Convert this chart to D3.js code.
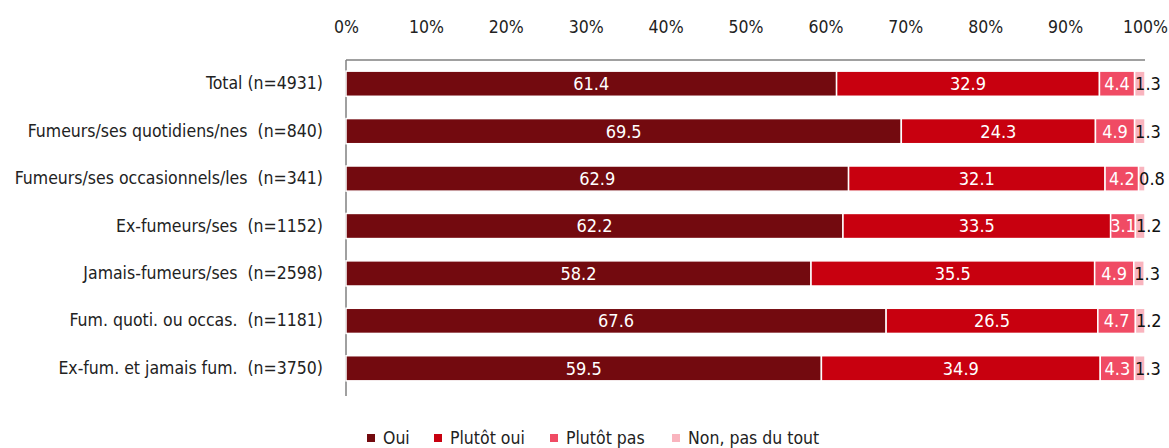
<!DOCTYPE html>
<html>
  <head>
    <meta charset="utf-8">
    <script type="text/javascript" src="https://cdn.jsdelivr.net/npm/d3@7"></script>
    <style>
      body { margin: 0; background: #fff; }
      text { font-family: "Liberation Sans Narrow", "DejaVu Sans Condensed", "Roboto", sans-serif; white-space: pre; }
    </style>
  </head>
  <body>
  <script type='text/javascript'>

    var categories = [
      "Total (n=4931)",
      "Fumeurs/ses quotidiens/nes  (n=840)",
      "Fumeurs/ses occasionnels/les  (n=341)",
      "Ex-fumeurs/ses  (n=1152)",
      "Jamais-fumeurs/ses  (n=2598)",
      "Fum. quoti. ou occas.  (n=1181)",
      "Ex-fum. et jamais fum.  (n=3750)"
    ];
    var series = ["Oui", "Plutôt oui", "Plutôt pas", "Non, pas du tout"];
    var oui       = [61.4, 69.5, 62.9, 62.2, 58.2, 67.6, 59.5];
    var plutotOui = [32.9, 24.3, 32.1, 33.5, 35.5, 26.5, 34.9];
    var plutotPas = [4.4, 4.9, 4.2, 3.1, 4.9, 4.7, 4.3];
    var non       = [1.3, 1.3, 0.8, 1.2, 1.3, 1.2, 1.3];
    var tickValues = [0, 10, 20, 30, 40, 50, 60, 70, 80, 90, 100];

    var colors = ["#730a0f", "#c8000f", "#f04b64", "#f9b4be"];
    var labelColors = ["#fff", "#fff", "#fff", "#111"];
    var FONT = "'Liberation Sans Narrow', 'DejaVu Sans Condensed', sans-serif";

    var W = 1169, H = 448;
    var svg = d3.select("body").append("svg")
        .attr("width", W).attr("height", H);

    var x = d3.scaleLinear().domain([0, 100]).range([346, 1145]);
    var y = d3.scaleBand().domain(categories).range([60, 392]).paddingInner(0.47).paddingOuter(0.235);

    var rows = categories.map(function(c, i){
      return {cat: c, vals: [oui[i], plutotOui[i], plutotPas[i], non[i]]};
    });

    // top axis (tick labels only)
    var xAxis = d3.axisTop(x).tickValues(tickValues).tickFormat(function(d){ return d + "%"; }).tickSize(0);
    var gx = svg.append("g").attr("transform", "translate(0,27)").call(xAxis);
    gx.select(".domain").remove();
    gx.selectAll("text").attr("font-size", 17.5).attr("fill", "#222")
      .attr("font-family", FONT)
      .attr("dy", "0.35em").attr("y", 0);

    // frame lines
    svg.append("line").attr("x1", x(0)).attr("x2", x(100)).attr("y1", 60).attr("y2", 60)
      .attr("stroke", "#808080").attr("stroke-width", 1.5);
    svg.append("line").attr("x1", x(0)).attr("x2", x(0)).attr("y1", 60).attr("y2", 396)
      .attr("stroke", "#808080").attr("stroke-width", 1.5);

    // category labels
    var yAxis = d3.axisLeft(y).tickSize(0).tickPadding(23);
    var gy = svg.append("g").attr("transform", "translate(" + x(0) + ",0)").call(yAxis);
    gy.select(".domain").remove();
    gy.selectAll("text").attr("font-size", 17.5).attr("fill", "#222")
      .attr("font-family", FONT);

    // bars
    var rowG = svg.selectAll("g.row").data(rows).enter().append("g")
        .attr("class", "row")
        .attr("transform", function(d){ return "translate(0," + y(d.cat) + ")"; });

    rowG.each(function(d){
      var g = d3.select(this);
      var acc = 0;
      d.vals.forEach(function(v, k){
        var x0 = x(acc), x1 = x(acc + v);
        g.append("rect")
          .attr("x", x0).attr("y", 0)
          .attr("width", Math.max(0, x1 - x0)).attr("height", y.bandwidth())
          .attr("fill", colors[k]).attr("stroke", "#fff").attr("stroke-width", 1.5);
        var t = g.append("text")
          .attr("y", y.bandwidth() / 2).attr("dy", "0.36em")
          .attr("font-size", 18).attr("fill", labelColors[k])
          .text(v.toFixed(1));
        if (k == 3) {
          t.attr("x", x0 + 0.5).attr("text-anchor", "start");
        } else {
          t.attr("x", (x0 + x1) / 2).attr("text-anchor", "middle");
        }
        acc += v;
      });
    });

    // legend
    var legendX = [367, 434, 550, 672];
    var lg = svg.selectAll("g.leg").data(series).enter().append("g")
        .attr("class", "leg")
        .attr("transform", function(d, i){ return "translate(" + legendX[i] + ",438)"; });
    lg.append("rect").attr("x", 0).attr("y", -4).attr("width", 8).attr("height", 8)
      .attr("fill", function(d, i){ return colors[i]; });
    lg.append("text").attr("x", 16).attr("y", 0).attr("dy", "0.36em")
      .attr("font-size", 17.5).attr("fill", "#222").text(function(d){ return d; });

  </script>
  </body>
</html>
